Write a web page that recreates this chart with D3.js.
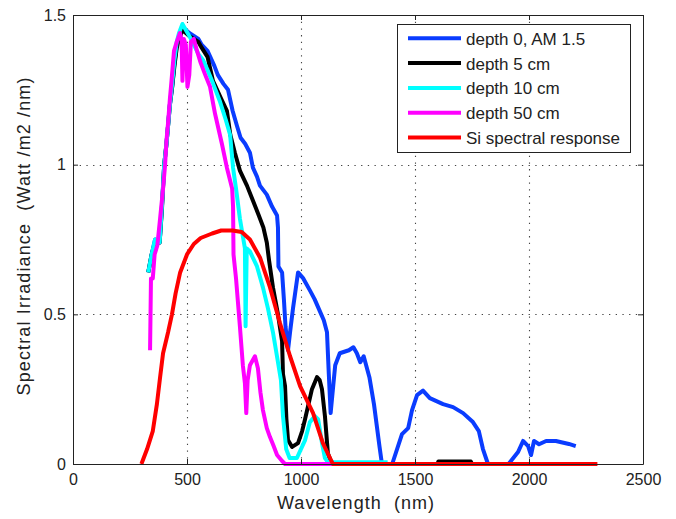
<!DOCTYPE html>
<html><head><meta charset="utf-8">
<script src="https://cdn.jsdelivr.net/npm/d3@7"></script>
<style>
html,body{margin:0;padding:0;background:#fff;}
svg{display:block;font-family:"Liberation Sans",Arial,sans-serif;}
</style></head>
<body><svg id="c" width="676" height="519"></svg>
<script>
const xTicks = [0, 500, 1000, 1500, 2000, 2500];
const yTicks = [0, 0.5, 1, 1.5];
const yTickLabels = ["0", "0.5", "1", "1.5"];
const seriesNames = ["depth 0, AM 1.5", "depth 5 cm", "depth 10 cm", "depth 50 cm", "Si spectral response"];
const seriesColors = ["#0a3cff", "#000000", "#00ffff", "#ff00ff", "#ff0000"];

const depth0 = [[330,0.64],[345,0.70],[360,0.75],[380,0.74],[390,0.86],[400,1.0],[410,1.07],[425,1.2],[435,1.26],[445,1.34],[455,1.40],[465,1.43],[480,1.46],[495,1.45],[510,1.44],[530,1.43],[550,1.42],[565,1.40],[590,1.38],[620,1.33],[635,1.30],[660,1.27],[680,1.25],[700,1.18],[719,1.13],[735,1.09],[755,1.07],[776,1.04],[789,0.99],[807,0.96],[820,0.93],[850,0.90],[873,0.86],[895,0.83],[899,0.79],[901,0.66],[917,0.64],[925,0.55],[932,0.46],[943,0.38],[952,0.44],[965,0.52],[987,0.64],[1010,0.62],[1039,0.58],[1060,0.55],[1083,0.51],[1100,0.48],[1114,0.44],[1122,0.30],[1130,0.17],[1140,0.25],[1150,0.33],[1170,0.37],[1210,0.38],[1230,0.39],[1245,0.37],[1260,0.34],[1275,0.36],[1300,0.29],[1320,0.20],[1344,0.06],[1355,0],[1400,0],[1443,0.10],[1470,0.12],[1487,0.18],[1509,0.23],[1535,0.245],[1565,0.22],[1623,0.20],[1667,0.19],[1711,0.17],[1754,0.14],[1780,0.11],[1798,0.05],[1820,0],[1910,0],[1952,0.04],[1974,0.077],[1996,0.06],[2009,0.03],[2022,0.077],[2044,0.066],[2075,0.077],[2118,0.077],[2175,0.067],[2205,0.06]];

const depth5 = [[330,0.64],[345,0.70],[360,0.74],[380,0.74],[390,0.85],[400,1.0],[410,1.07],[425,1.2],[435,1.26],[445,1.33],[455,1.39],[465,1.42],[480,1.45],[495,1.44],[510,1.43],[530,1.42],[550,1.41],[565,1.39],[590,1.36],[614,1.28],[650,1.22],[675,1.18],[690,1.10],[710,1.04],[732,0.98],[763,0.93],[789,0.88],[815,0.83],[835,0.79],[850,0.74],[860,0.68],[877,0.59],[899,0.50],[917,0.41],[921,0.30],[930,0.26],[936,0.15],[943,0.08],[961,0.057],[987,0.07],[1005,0.11],[1018,0.15],[1048,0.25],[1070,0.29],[1082,0.28],[1092,0.25],[1105,0.16],[1118,0.035],[1136,0],[1600,0],[1602,0.008],[1745,0.008],[1750,0]];

const depth10 = [[330,0.64],[345,0.70],[360,0.75],[380,0.74],[390,0.86],[400,1.0],[410,1.07],[425,1.2],[435,1.27],[445,1.35],[455,1.41],[465,1.44],[480,1.47],[495,1.45],[510,1.43],[530,1.40],[550,1.37],[570,1.35],[588,1.32],[615,1.27],[645,1.21],[670,1.15],[689,1.10],[702,0.99],[715,0.92],[732,0.82],[754,0.72],[757,0.46],[762,0.72],[776,0.71],[807,0.66],[833,0.59],[855,0.52],[877,0.44],[899,0.34],[912,0.28],[921,0.16],[935,0.05],[950,0.02],[982,0.02],[1018,0.08],[1039,0.14],[1061,0.16],[1075,0.15],[1092,0.07],[1105,0.02],[1118,0.006],[1380,0.006]];

const depth50 = [[338,0.38],[342,0.62],[350,0.62],[358,0.70],[370,0.73],[382,0.82],[395,0.92],[404,1.0],[410,1.08],[417,1.14],[425,1.22],[432,1.28],[443,1.38],[455,1.41],[469,1.44],[476,1.42],[480,1.28],[486,1.42],[495,1.40],[502,1.26],[510,1.30],[517,1.41],[530,1.42],[544,1.38],[560,1.34],[580,1.30],[601,1.26],[623,1.17],[653,1.07],[675,0.99],[698,0.92],[702,0.86],[704,0.70],[715,0.62],[732,0.46],[745,0.33],[754,0.27],[760,0.17],[766,0.28],[776,0.33],[798,0.36],[811,0.32],[822,0.24],[833,0.18],[850,0.12],[864,0.09],[880,0.06],[895,0.03],[917,0.01],[930,0],[1150,0]];

const siResponse = [[300,0],[325,0.05],[350,0.11],[368,0.20],[382,0.29],[395,0.37],[417,0.44],[434,0.50],[450,0.57],[470,0.64],[500,0.70],[530,0.735],[560,0.755],[610,0.77],[650,0.78],[700,0.78],[740,0.775],[776,0.75],[820,0.69],[864,0.59],[908,0.47],[952,0.36],[996,0.26],[1053,0.17],[1096,0.07],[1127,0.02],[1140,0],[2300,0]];

const allSeries = [depth0, depth5, depth10, depth50, siResponse];

const svg = d3.select("#c");
const L = 73, R = 643, T = 15, B = 464;
const x = d3.scaleLinear().domain([0, 2500]).range([L, R]);
const y = d3.scaleLinear().domain([0, 1.5]).range([B, T]);

// grid
const grid = svg.append("g").attr("stroke", "#444").attr("stroke-width", 1.1).attr("stroke-dasharray", "1.3,5.4");
grid.selectAll(".gx").data(xTicks.slice(1, -1)).join("line")
  .attr("x1", d => Math.round(x(d)) + 0.5).attr("x2", d => Math.round(x(d)) + 0.5)
  .attr("y1", T).attr("y2", B);
grid.selectAll(".gy").data(yTicks.slice(1, -1)).join("line")
  .attr("y1", d => Math.round(y(d)) + 0.5).attr("y2", d => Math.round(y(d)) + 0.5)
  .attr("x1", L).attr("x2", R);

// curves
const line = d3.line().x(d => x(d[0])).y(d => y(d[1]));
allSeries.forEach((s, i) => {
  svg.append("path").datum(s).attr("d", line)
    .attr("fill", "none").attr("stroke", seriesColors[i])
    .attr("stroke-width", 4).attr("stroke-linejoin", "round").attr("stroke-linecap", "butt");
});

// axes (ticks inside, MATLAB style)
const fmtY = d => yTickLabels[yTicks.indexOf(d)];
const axB = svg.append("g").attr("transform", `translate(0,${B})`)
  .call(d3.axisBottom(x).tickValues(xTicks).tickSize(-5).tickSizeOuter(0).tickPadding(10).tickFormat(d3.format("d")));
const axL = svg.append("g").attr("transform", `translate(${L},0)`)
  .call(d3.axisLeft(y).tickValues(yTicks).tickSize(-5).tickSizeOuter(0).tickPadding(7).tickFormat(fmtY));
const axT = svg.append("g").attr("transform", `translate(0,${T})`)
  .call(d3.axisTop(x).tickValues(xTicks).tickSize(-5).tickSizeOuter(0).tickFormat(""));
const axR = svg.append("g").attr("transform", `translate(${R},0)`)
  .call(d3.axisRight(y).tickValues(yTicks).tickSize(-5).tickSizeOuter(0).tickFormat(""));
[axB, axL, axT, axR].forEach(a => {
  a.selectAll("path.domain").attr("stroke", "#222");
  a.selectAll(".tick line").attr("stroke", "#222");
  a.selectAll("text").attr("font-family", "Liberation Sans, Arial, sans-serif").attr("font-size", 16).attr("fill", "#222");
});

// axis labels
svg.append("text").attr("x", 355.5).attr("y", 509).attr("text-anchor", "middle")
  .attr("font-size", 18).attr("fill", "#222").attr("xml:space", "preserve")
  .attr("textLength", 157).attr("lengthAdjust", "spacing")
  .text("Wavelength  (nm)");
svg.append("text").attr("transform", "translate(30,236.5) rotate(-90)").attr("text-anchor", "middle")
  .attr("font-size", 18).attr("fill", "#222").attr("xml:space", "preserve")
  .attr("textLength", 318).attr("lengthAdjust", "spacing")
  .text("Spectral Irradiance  (Watt /m2 /nm)");

// legend
const lg = svg.append("g");
lg.append("rect").attr("x", 397.5).attr("y", 24.5).attr("width", 233).attr("height", 128)
  .attr("fill", "#fff").attr("stroke", "#222").attr("stroke-width", 1);
seriesNames.forEach((n, i) => {
  const yy = 38.3 + i * 24.8;
  lg.append("line").attr("x1", 408).attr("x2", 461).attr("y1", yy).attr("y2", yy)
    .attr("stroke", seriesColors[i]).attr("stroke-width", 4);
  lg.append("text").attr("x", 466).attr("y", yy + 6.5).attr("font-size", 17).attr("fill", "#222").text(n);
});
</script></body></html>
